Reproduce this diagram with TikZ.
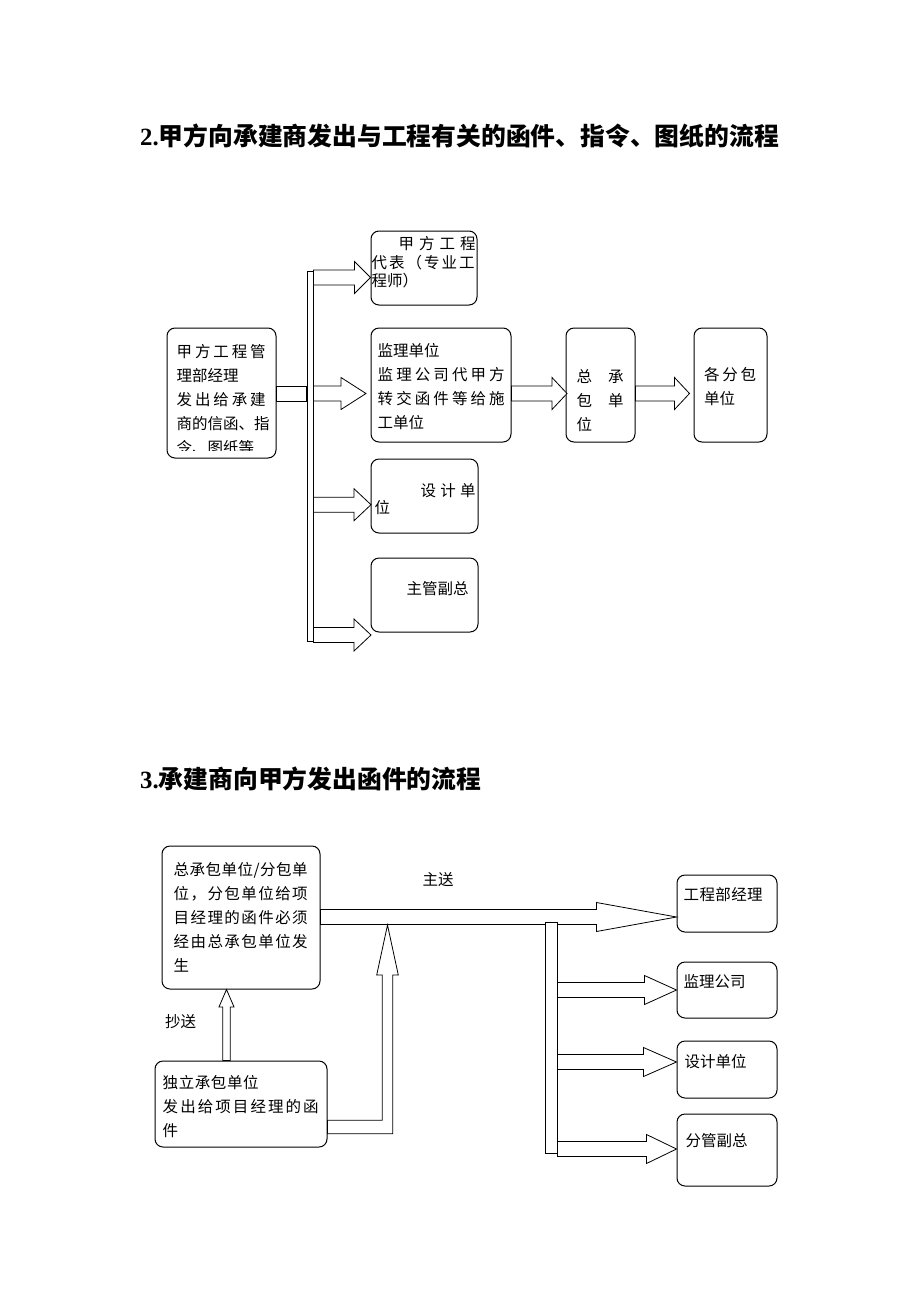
\documentclass[tikz,border=0pt]{standalone}
\usepackage{fontspec}
\setmainfont{Noto Sans CJK SC}
\newfontfamily\numfont{Liberation Serif}
\usetikzlibrary{positioning,calc}
\def\spreadrest#1{\ifx#1\relax\else\hfil#1\expandafter\spreadrest\fi}
\def\spreadfirst#1{#1\spreadrest}
\newcommand{\spreadline}[2]{\makebox[#1pt][s]{\spreadfirst#2\relax}}
\newcommand{\headw}{16pt}
\newcommand{\fatarrow}[3][16]{%
  \draw[fat] let \p1=(#2), \p2=(#3) in
    (\x1,\y2+7.5pt) -- (\x2-#1pt,\y2+7.5pt) -- (\x2-#1pt,\y2+\headw) -- (\x2,\y2)
    -- (\x2-#1pt,\y2-\headw) -- (\x2-#1pt,\y2-7.5pt) -- (\x1,\y2-7.5pt) -- cycle;}
\begin{document}
\begin{tikzpicture}[x=1pt, y=-1pt,
    box/.style = {draw, rounded corners=8pt, line width=1pt, inner sep=0},
    txt/.style = {inner sep=0, text width=170pt, align=left, font=\fontsize{15.5}{24}\selectfont},
    lbl/.style = {inner sep=0, font=\fontsize{15.5}{18}\selectfont},
    fat/.style = {draw, fill=white, line width=0.8pt},
    bar/.style = {draw, fill=white, line width=0.8pt, inner sep=0},
    title/.style = {inner sep=0, anchor=west, font=\bfseries\fontsize{24.8}{30}\selectfont}]
    \useasboundingbox (0,0) rectangle (920,1302);
    \node[title] (t1) at (140,136) {{\numfont 2.}甲方向承建商发出与工程有关的函件、指令、图纸的流程};
    \node[box, minimum width=109pt, minimum height=130pt] (1) at (221.5,393) {};
    \node[box, minimum width=140pt, minimum height=114pt] (2) at (441,385) {};
    \node[box, minimum width=69pt, minimum height=114pt] (3) [right=54pt of 2] {};
    \node[box, minimum width=73pt, minimum height=114pt] (4) [right=58pt of 3] {};
    \node[box, minimum width=106pt, minimum height=74pt] (5) [above=22pt of 2.north west, anchor=south west] {};
    \node[box, minimum width=107pt, minimum height=74pt] (6) [below=16pt of 2.south west, anchor=north west] {};
    \node[box, minimum width=107pt, minimum height=74pt] (7) [below=24pt of 6.south west, anchor=north west] {};
    \begin{scope}
    \clip (1.north west) rectangle ($(1.south east)+(0,-8)$);
    \node[txt, below right=30pt and 10pt of 1.north west, anchor=base west] (1a)
      {\spreadline{89}{甲方工程管}\\理部经理\\\spreadline{89}{发出给承建}\\商的信函、指\\令、图纸等};
    \end{scope}
    \node[txt, below right=29pt and 7pt of 2.north west, anchor=base west] (2a)
      {监理单位\\\spreadline{127}{监理公司代甲方}\\\spreadline{127}{转交函件等给施}\\工单位};
    \node[txt, below right=55pt and 11pt of 3.north west, anchor=base west] (3a)
      {\spreadline{47}{总承}\\\spreadline{47}{包单}\\位};
    \node[txt, below right=53pt and 10.5pt of 4.north west, anchor=base west] (4a)
      {\spreadline{52}{各分包}\\单位};
    \node[txt, below right=19pt and 1pt of 5.north west, anchor=base west, font=\fontsize{15.5}{18.5}\selectfont] (5a)
      {\hspace*{27pt}\spreadline{77}{甲方工程}\\\spreadline{103}{代表（专业工}\\程师）};
    \node[txt, below right=38pt and 4pt of 6.north west, anchor=base west, font=\fontsize{15.5}{17}\selectfont] (6a)
      {\hspace*{46pt}\spreadline{55}{设计单}\\位};
    \node[txt, below right=37pt and 36pt of 7.north west, anchor=base west] (7a) {主管副总};
    %Owner
    \node[bar, minimum width=6pt, minimum height=370pt] (b1) at (310,456) {};
    \draw[fat] let \p1=(1.east), \p2=($(2.west)+(0,8.5)$), \p3=(b1.west) in
      (\x1,\y2+7.5pt) rectangle (\x3,\y2-7.5pt);
    \fatarrow[25]{b1.east}{$(2.west)+(-4.5,8.5)$}
    \fatarrow[16]{b1.east}{$(5.west)+(0,9.5)$}
    \fatarrow[15]{2.east}{$(3.west)+(1.5,8.5)$}
    \fatarrow[15]{3.east}{$(4.west)+(-4,8.5)$}
    \fatarrow[17]{b1.east}{$(6.west)+(0.5,8.7)$}
    \fatarrow[17]{b1.east}{$(7.west)+(0.5,40)$}
    \node[title] (t2) at (140,779) {{\numfont 3.}承建商向甲方发出函件的流程};
    \node[box, minimum width=158pt, minimum height=143pt] (8) at (241,917.5) {};
    \node[box, minimum width=172pt, minimum height=86pt] (9) [below=71pt of 8] {};
    \node[box, minimum width=100pt, minimum height=57pt] (10) at (727,903.5) {};
    \node[box, minimum width=100pt, minimum height=56pt] (11) [below=29pt of 10] {};
    \node[box, minimum width=100pt, minimum height=57pt] (12) [below=22pt of 11] {};
    \node[box, minimum width=100pt, minimum height=72pt] (13) [below=15pt of 12] {};
    \node[txt, below right=30pt and 12pt of 8.north west, anchor=base west] (8a)
      {\spreadline{134}{总承包单位/分包单}\\\spreadline{134}{位，分包单位给项}\\\spreadline{134}{目经理的函件必须}\\\spreadline{134}{经由总承包单位发}\\生};
    \node[txt, below right=28pt and 8pt of 9.north west, anchor=base west] (9a)
      {\spreadline{96}{独立承包单位}\\\spreadline{156}{发出给项目经理的函}\\件};
    \node[txt, below right=26pt and 7pt of 10.north west, anchor=base west] (10a) {\spreadline{79}{工程部经理}};
    \node[txt, below right=26pt and 7pt of 11.north west, anchor=base west] (11a) {监理公司};
    \node[txt, below right=27pt and 8pt of 12.north west, anchor=base west] (12a) {设计单位};
    \node[txt, below right=33pt and 9pt of 13.north west, anchor=base west] (13a) {分管副总};
    \node[lbl] (ms) at (438,880) {主送};
    \node[lbl] (cs) at (180.5,1022) {抄送};
    %Contractor
    \renewcommand{\headw}{14.5pt}
    \fatarrow[80]{8.east}{$(10.west)+(0,13.5)$}
    \draw[fat] let \p1=($(9.north)+(-14.5,0)$), \p2=(8.south) in
      (\x1-3.7pt,\y1) -- (\x1-3.7pt,\y2-17.4pt) -- (\x1-7.5pt,\y2-17.4pt) -- (\x1,\y2)
      -- (\x1+7.5pt,\y2-17.4pt) -- (\x1+3.7pt,\y2-17.4pt) -- (\x1+3.7pt,\y1) -- cycle;
    \coordinate (j1) at (387.5,925);
    \draw[fat] let \p1=($(9.east)+(0,23)$), \p2=(j1) in
      (\x1,\y1+6.7pt) -- (\x2-5.2pt,\y1+6.7pt) -- (\x2-5.2pt,\y2-50pt) -- (\x2-10.8pt,\y2-50pt)
      -- (\x2,\y2) -- (\x2+10.8pt,\y2-50pt) -- (\x2+5.2pt,\y2-50pt) -- (\x2+5.2pt,\y1-6.7pt)
      -- (\x1,\y1-6.7pt) -- cycle;
    \node[bar, minimum width=12pt, minimum height=231pt] (b2) at (551,1037.5) {};
    \fatarrow[32]{b2.east}{11.west}
    \fatarrow[33]{b2.east}{$(12.west)+(0,-7.5)$}
    \fatarrow[30]{b2.east}{$(13.west)+(0,-1)$}
\end{tikzpicture}
\end{document}
